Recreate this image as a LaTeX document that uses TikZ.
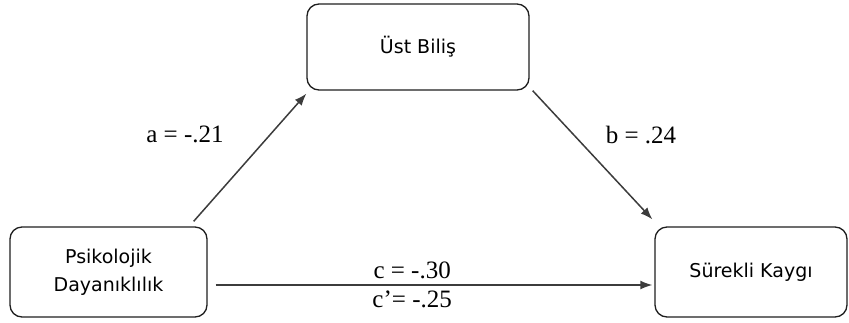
\documentclass[tikz,border=0pt]{standalone}
\usepackage{fontspec}
\setmainfont{Liberation Serif}
\newfontfamily\boxfont{DejaVu Sans}
\usetikzlibrary{positioning, arrows.meta}
\definecolor{boxborder}{HTML}{1E1E1E}
\definecolor{pathline}{HTML}{3C3C3C}

\begin{document}
\begin{tikzpicture}[
    x=1pt, y=-1pt,
    >={Latex[length=12pt,width=9pt]},
    var/.style={draw=boxborder, rounded corners=12pt, line width=1.3pt,
                align=center, font=\boxfont\fontsize{19}{28}\selectfont},
    path/.style={->, draw=pathline, line width=1.5pt},
    coef/.style={font=\fontsize{25}{28}\selectfont, inner sep=0pt},
]
\useasboundingbox (0,0) rectangle (849,322);

\node[var, minimum width=197pt, minimum height=90pt] (psi) at (108.5,272) {Psikolojik\\Dayanıklılık};
\node[var, minimum width=222pt, minimum height=86pt] (ust) at (418,47) {Üst Biliş};
\node[var, minimum width=192pt, minimum height=90pt] (kay) at (751,272) {Sürekli Kaygı};

% a and b paths
\draw[path] ([xshift=-14pt,yshift=5pt]psi.north east) -- ([yshift=-3pt]ust.south west);
\draw[path] ([xshift=3pt]ust.south east) -- ([xshift=-2pt,yshift=7pt]kay.north west);
\node[coef] (ca) at (185,134) {a = -.21};
\node[coef] (cb) at (641,135) {b = .24};

% direct path
\draw[path] ([xshift=8pt,yshift=-13pt]psi.east) -- ([xshift=-2pt,yshift=-13pt]kay.west)
    node[coef, pos=0.45, above=5pt] (cc) {c = -.30}
    node[coef, pos=0.45, below=5pt] (ccp) {c’= -.25};

\end{tikzpicture}
\end{document}
